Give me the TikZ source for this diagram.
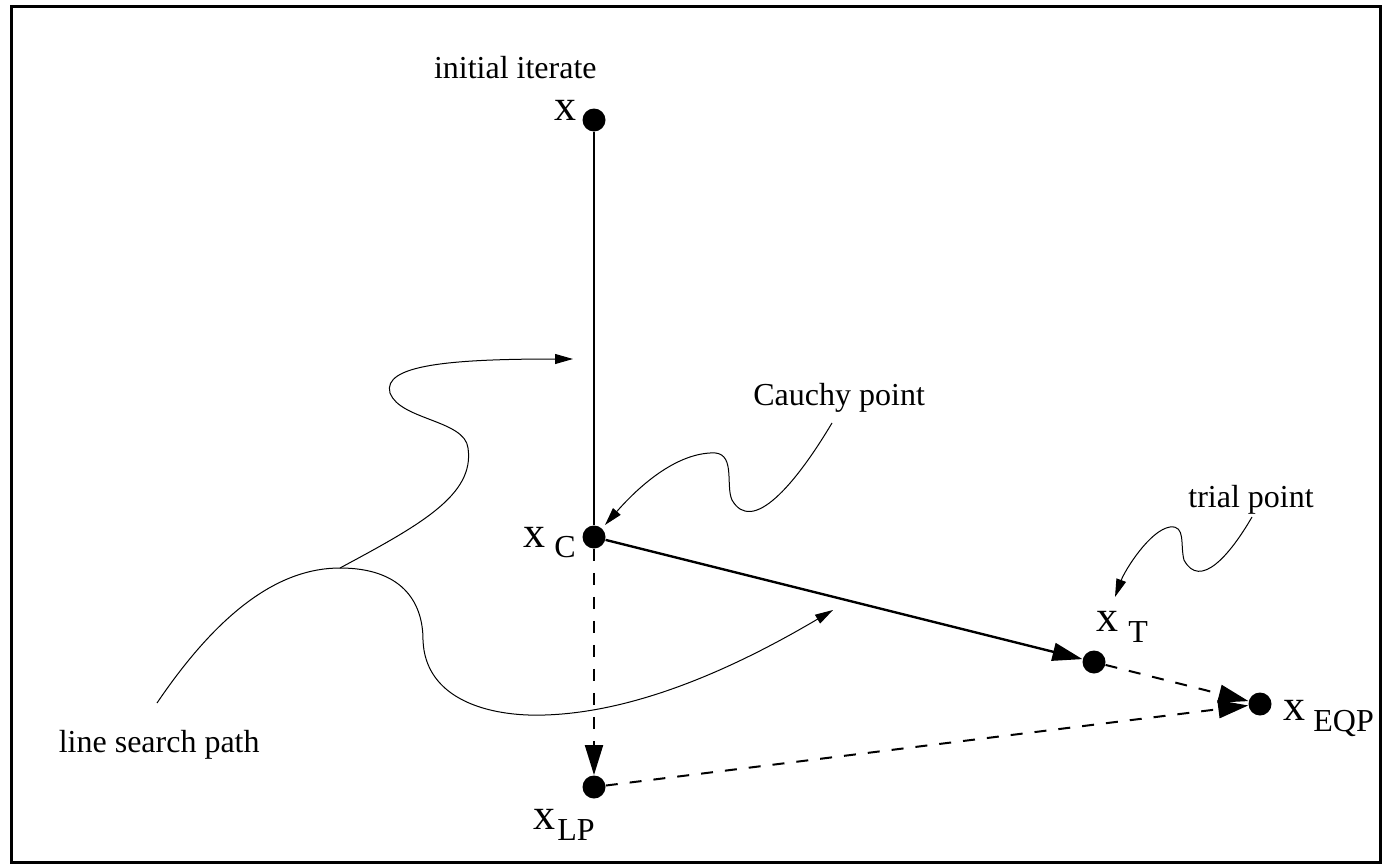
\documentclass[tikz,border=0pt]{standalone}
\usepackage{fontspec}
\setmainfont{Liberation Serif}
\usetikzlibrary{arrows.meta}
\begin{document}
\begin{tikzpicture}[x=0.5pt,y=-0.5pt,
  dot/.style={circle,fill=black,inner sep=0pt,minimum size=11.5pt},
  lbl/.style={font=\fontsize{16}{18}\selectfont,inner sep=0pt},
  xl/.style={font=\fontsize{22}{24}\selectfont,inner sep=0pt,anchor=base},
  sublbl/.style={font=\fontsize{16}{18}\selectfont,inner sep=0pt,anchor=base west},
  bigtip/.style={-{Triangle[length=15pt,width=9pt]}},
  curve/.style={line width=0.5pt,-{Triangle[length=9pt,width=5pt]}},
  dsh/.style={line width=1pt,dash pattern=on 6pt off 6pt},
]
\path[use as bounding box] (0,0) rectangle (1383,867);
\draw[line width=1.5pt] (11,6) rectangle (1380,862);

% points
\node[dot] (x) at (594,120) {};
\node[dot] (xc) at (594,537) {};
\node[dot] (xlp) at (594,787) {};
\node[dot] (xt) at (1094,662) {};
\node[dot] (xeqp) at (1260,704) {};

% point labels
\node[xl] (lx) at (565,120) {x};
\node[xl] (lxc) at (534,547) {x};
\node[sublbl] (sc) at (554,557) {C};
\node[xl] (lxlp) at (544,829) {x};
\node[sublbl] (slp) at (557,840) {LP};
\node[xl] (lxt) at (1107,631) {x};
\node[sublbl] (st) at (1128,642) {T};
\node[xl] (lxe) at (1294,720) {x};
\node[sublbl] (se) at (1313,731) {EQP};

% texts
\node[lbl,anchor=base east] (tinit) at (597,78) {initial iterate};
\node[lbl,anchor=base west] (tcp) at (753,405) {Cauchy point};
\node[lbl,anchor=base west] (ttp) at (1188,507) {trial point};
\node[lbl,anchor=base east] (tls) at (260,752) {line search path};

% main connectors
\draw[line width=1.2pt] (x) -- (xc);
\draw[line width=1.2pt,bigtip] (xc) -- (xt);
\draw[dsh,bigtip] (xc) -- (xlp);
\draw[dsh,bigtip] (xt) -- (xeqp);
\draw[dsh,bigtip] (xlp) -- (xeqp);

% curve end coordinates
\coordinate (cps) at (832,423);
\coordinate (cpe) at (605,525);
\coordinate (tps) at (1252,517);
\coordinate (tpe) at (1115,597);
\coordinate (lss) at (157,703);
\coordinate (lsj) at (340,568);
\coordinate (lse1) at (573,359);
\coordinate (lse2) at (833,610);

% Cauchy point curve
\draw[curve] (cps) .. controls (795,485) and (752,535) .. (732,500)
  .. controls (725,485) and (737,450) .. (710,453)
  .. controls (675,455) and (640,485) .. (cpe);
% trial point curve
\draw[curve] (tps) .. controls (1230,555) and (1200,590) .. (1184,560)
  .. controls (1180,545) and (1186,525) .. (1170,527)
  .. controls (1150,530) and (1125,570) .. (tpe);
% line search path
\draw[line width=0.5pt] (lss) .. controls (220,610) and (280,568) .. (lsj);
\draw[curve] (lsj) .. controls (400,568) and (423,600) .. (423,640)
  .. controls (425,700) and (490,717) .. (545,715)
  .. controls (640,712) and (740,665) .. (lse2);
\draw[curve] (lsj) .. controls (420,525) and (475,495) .. (468,448)
  .. controls (465,420) and (400,420) .. (390,393)
  .. controls (382,365) and (450,359) .. (lse1);
\end{tikzpicture}
\end{document}
